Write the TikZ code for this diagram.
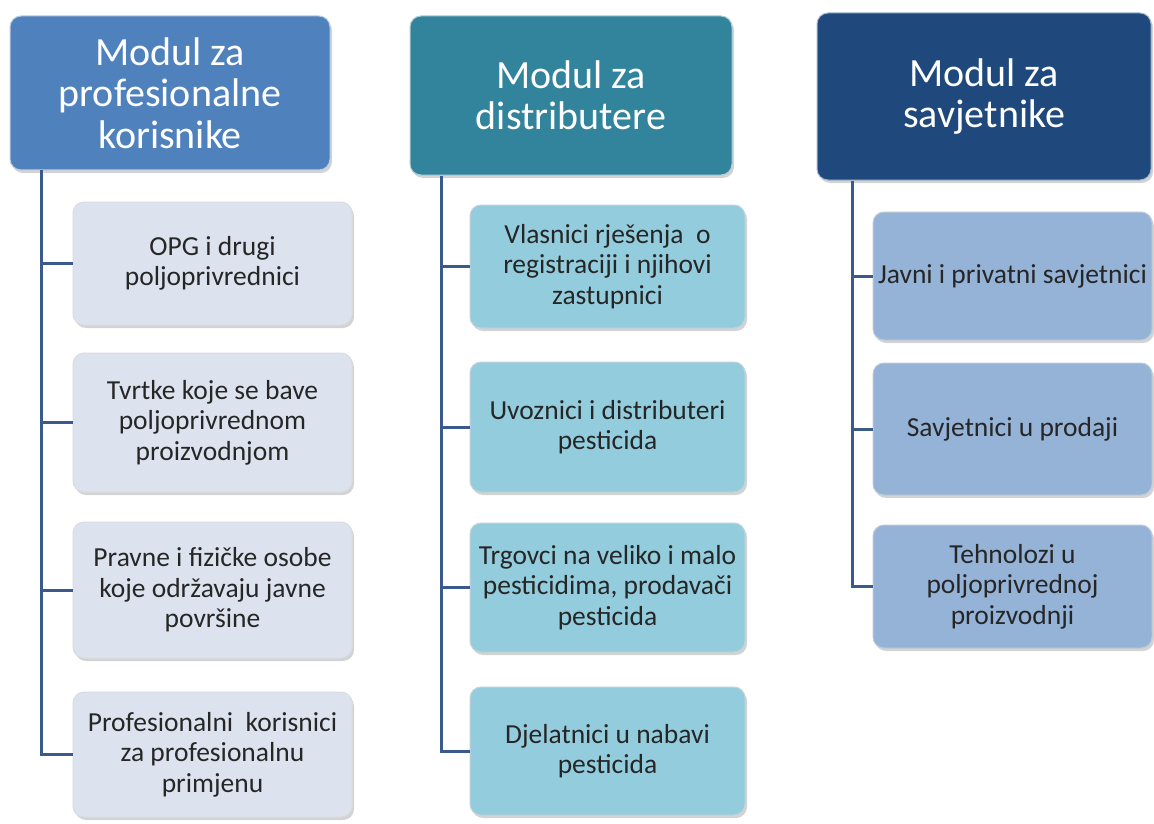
\documentclass[tikz,border=0pt]{standalone}
\usepackage{fontspec}
\setmainfont{Carlito}
\usetikzlibrary{shadows,calc}
\definecolor{hA}{HTML}{4F81BD}
\definecolor{hB}{HTML}{31849B}
\definecolor{hC}{HTML}{1F497D}
\definecolor{cA}{HTML}{DCE3EF}
\definecolor{cB}{HTML}{93CDDD}
\definecolor{cC}{HTML}{95B3D7}
\definecolor{lineC}{HTML}{3A5A8C}
\definecolor{txt}{HTML}{262626}
\tikzset{
  box/.style={rounded corners=11pt, draw=white!75!black, line width=1pt,
    drop shadow={shadow xshift=2pt, shadow yshift=-3pt, opacity=0.35},
    align=center, inner sep=0pt},
  head/.style={box, text=white, font=\fontsize{40}{41.5}\selectfont, draw=white!60!#1, fill=#1},
  kid/.style={box, text=txt, font=\fontsize{27.5}{30.5}\selectfont, draw=white!55!#1!80!gray, fill=#1},
  conn/.style={draw=lineC, line width=3pt},
}
\begin{document}
\begin{tikzpicture}[x=1pt,y=-1pt]
\useasboundingbox (0,0) rectangle (1154,824);
% headers
\node[head=hA, minimum width=320, minimum height=154] (h1) at (170,93) {Modul za\\profesionalne\\korisnike};
\node[head=hB, minimum width=322, minimum height=159] (h2) at (571,95.5) {Modul za\\distributere};
\node[head=hC, minimum width=334, minimum height=167] (h3) at (984,96.5) {Modul za\\savjetnike};
% column 1
\node[kid=cA, minimum width=279, minimum height=123] (a1) at (212.5,263.5) {OPG i drugi\\poljoprivrednici};
\node[kid=cA, minimum width=279, minimum height=139] (a2) at (212.5,422.5) {Tvrtke koje se bave\\poljoprivrednom\\proizvodnjom};
\node[kid=cA, minimum width=279, minimum height=136] (a3) at (212.5,590) {Pravne i fizičke osobe\\koje održavaju javne\\površine};
\node[kid=cA, minimum width=279, minimum height=125] (a4) at (212.5,754.5) {Profesionalni\ \ korisnici\\za profesionalnu\\primjenu};
% column 2
\node[kid=cB, minimum width=275, minimum height=123] (b1) at (607.5,266.5) {Vlasnici rješenja\ \ o\\registraciji i njihovi\\zastupnici};
\node[kid=cB, minimum width=275, minimum height=130] (b2) at (607.5,427) {Uvoznici i distributeri\\pesticida};
\node[kid=cB, minimum width=275, minimum height=129] (b3) at (607.5,587.5) {Trgovci na veliko i malo\\pesticidima, prodavači\\pesticida};
\node[kid=cB, minimum width=275, minimum height=128] (b4) at (607.5,751) {Djelatnici u nabavi\\pesticida};
% column 3
\node[kid=cC, minimum width=279, minimum height=128] (c1) at (1012.5,276) {Javni i privatni savjetnici};
\node[kid=cC, minimum width=279, minimum height=132] (c2) at (1012.5,429) {Savjetnici u prodaji};
\node[kid=cC, minimum width=279, minimum height=123] (c3) at (1012.5,586.5) {Tehnolozi u\\poljoprivrednoj\\proizvodnji};
% connectors
\coordinate (t1) at ($(h1.south west)+(32,0)$);
\coordinate (t2) at ($(h2.south west)+(32,0)$);
\coordinate (t3) at ($(h3.south west)+(36,0)$);
\draw[conn] (t1) |- (a4.west);
\foreach \n in {a1,a2,a3} \draw[conn] (\n.west -| t1) -- (\n.west);
\draw[conn] (t2) |- (b4.west);
\foreach \n in {b1,b2,b3} \draw[conn] (\n.west -| t2) -- (\n.west);
\draw[conn] (t3) |- (c3.west);
\foreach \n in {c1,c2} \draw[conn] (\n.west -| t3) -- (\n.west);
\end{tikzpicture}
\end{document}
